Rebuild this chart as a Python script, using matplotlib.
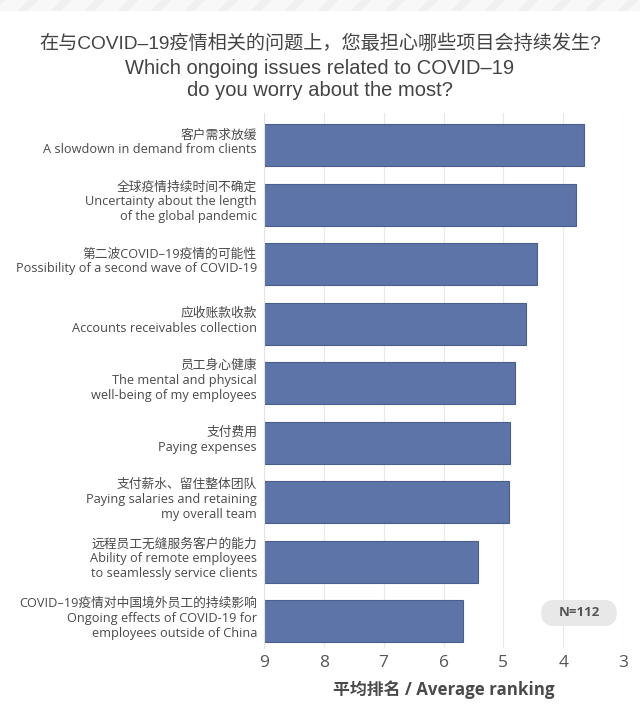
import matplotlib
matplotlib.use('Agg')
import matplotlib.pyplot as plt
from matplotlib.patches import FancyBboxPatch, Rectangle

labels_cn = ['客户需求放缓', '全球疫情持续时间不确定', '第二波COVID–19疫情的可能性',
             '应收账款收款', '员工身心健康', '支付费用', '支付薪水、留住整体团队',
             '远程员工无缝服务客户的能力', 'COVID–19疫情对中国境外员工的持续影响']
labels_en = ['A slowdown in demand from clients',
             'Uncertainty about the length\nof the global pandemic',
             'Possibility of a second wave of COVID-19',
             'Accounts receivables collection',
             'The mental and physical\nwell-being of my employees',
             'Paying expenses',
             'Paying salaries and retaining\nmy overall team',
             'Ability of remote employees\nto seamlessly service clients',
             'Ongoing effects of COVID-19 for\nemployees outside of China']
values = [3.65, 3.79, 4.43, 4.62, 4.80, 4.89, 4.91, 5.43, 5.68]
x_ticks = [9, 8, 7, 6, 5, 4, 3]

label_font = ['Open Sans', 'Noto Sans CJK SC', 'DejaVu Sans']
title_font = ['Liberation Sans', 'Noto Sans CJK SC', 'DejaVu Sans']

plt.rcParams['hatch.linewidth'] = 5
plt.rcParams['hatch.color'] = '#f0f0f0'

fig = plt.figure(figsize=(6.4, 7.15), dpi=100)
fig.patch.set_facecolor('white')

# faint striped band at the top
band = Rectangle((0, 1 - 11 / 715), 1, 11 / 715, transform=fig.transFigure,
                 facecolor='#f8f8f8', edgecolor='#f0f0f0', hatch='/', linewidth=0)
fig.patches.append(band)

ax = fig.add_axes([264 / 640, 1 - 648 / 715, (623 - 264) / 640, (648 - 113) / 715])

y = list(range(len(values)))
ax.barh(y, [v - 9 for v in values], left=9, height=0.705,
        color='#5d74a8', edgecolor='#4b5f8e', linewidth=0.8, zorder=3)

ax.set_xlim(9, 3)
ax.set_ylim(8.45, -0.54)
ax.set_xticks(x_ticks)
ax.set_xticklabels([str(t) for t in x_ticks], fontsize=12.5, color='#555555',
                   family=label_font)
ax.tick_params(axis='x', length=0, pad=5)
ax.set_yticks([])
ax.grid(axis='x', color='#e9e9e9', linewidth=0.9, zorder=0)
for s in ['top', 'right', 'bottom']:
    ax.spines[s].set_visible(False)
ax.spines['left'].set_color('#e3e3e3')
ax.spines['left'].set_zorder(4)

for i, (cn, en) in enumerate(zip(labels_cn, labels_en)):
    ax.annotate(cn + '\n' + en, xy=(0, i), xycoords=('axes fraction', 'data'),
                xytext=(-5, 2), textcoords='offset points', ha='right', va='center',
                fontsize=9.2, color='#4a4a4a', family=label_font, linespacing=1.2,
                multialignment='right')

ax.set_xlabel('平均排名 / Average ranking', fontsize=12.2, fontweight='bold',
              color='#4a4a4a', family=label_font, labelpad=7)

# N=112 pill
pill = FancyBboxPatch((541 / 640, 1 - 626 / 715), 76 / 640, 26 / 715,
                      boxstyle='round,pad=0,rounding_size=0.02',
                      transform=fig.transFigure, facecolor='#e8e8e8',
                      edgecolor='none', zorder=5)
fig.patches.append(pill)
fig.text(579 / 640, 1 - 612 / 715, 'N=112', ha='center', va='center', fontsize=9.5,
         fontweight='bold', color='#555555', family=label_font, zorder=10)

fig.text(0.5, 1 - 44 / 715, '在与COVID–19疫情相关的问题上，您最担心哪些项目会持续发生?',
         ha='center', va='center', fontsize=13.8, color='#444444', family=title_font)
fig.text(0.5, 1 - 79 / 715, 'Which ongoing issues related to COVID–19\ndo you worry about the most?',
         ha='center', va='center', fontsize=14.5, color='#444444', family=title_font,
         linespacing=1.2)

fig.savefig('out.png', dpi=100, facecolor='white')
